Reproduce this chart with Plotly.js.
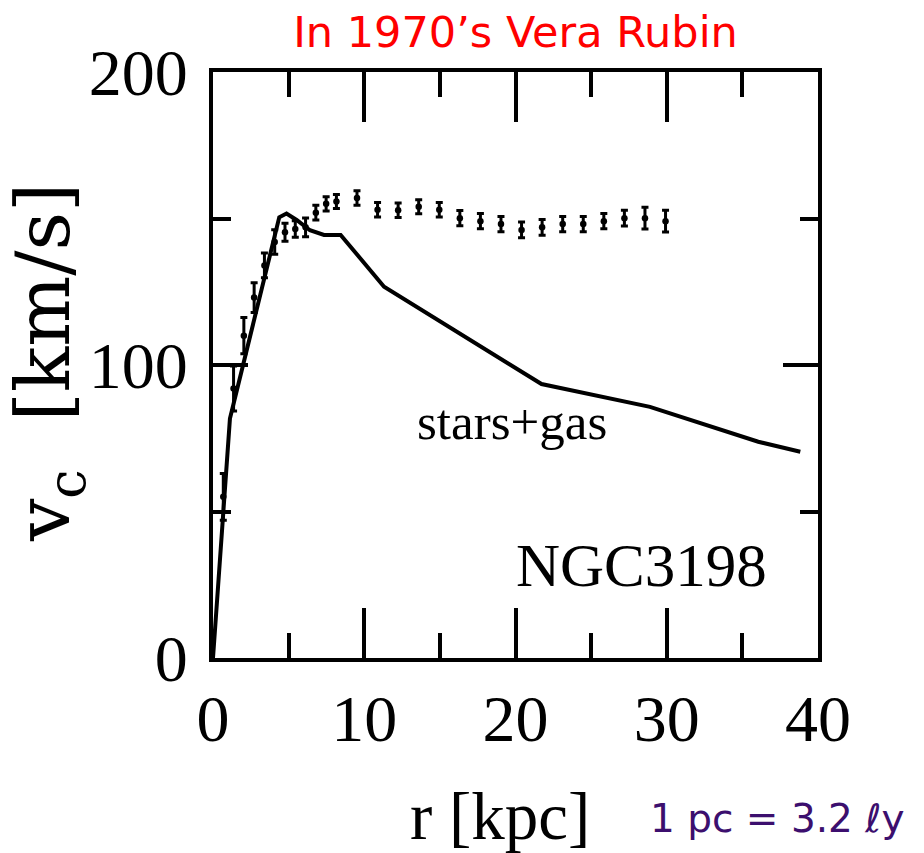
<!DOCTYPE html>
<html>
<head>
<meta charset="utf-8">
<script src="https://cdn.plot.ly/plotly-3.0.1.min.js"></script>
<style>html,body{margin:0;padding:0;background:#fff;}#chart{width:924px;height:853px;}</style>
</head>
<body>
<div id="chart"></div>
<script>
// Observed rotation curve of NGC3198 (points with error bars)
const obsR = [0.68, 1.36, 2.04, 2.72, 3.40, 4.08, 4.76, 5.44, 6.12, 6.80, 7.48, 8.16, 9.52, 10.88, 12.24, 13.60, 14.96, 16.32, 17.68, 19.04, 20.40, 21.76, 23.12, 24.48, 25.84, 27.20, 28.56, 29.92];
const obsV = [55, 92, 110, 123, 134, 142, 145.3, 146.4, 147.0, 152, 155, 155.8, 157, 153, 152.8, 154, 153, 150.1, 149.1, 148.1, 146.1, 147, 148.1, 148.1, 149.1, 150.1, 150.1, 149.1];
const obsErr = [8, 7.7, 6.2, 5.1, 4.2, 4.2, 3.1, 2.8, 3.2, 2.5, 2.4, 2.4, 2.5, 2.5, 2.5, 2.4, 2.5, 2.6, 2.6, 2.6, 2.7, 2.7, 2.6, 2.6, 2.6, 2.7, 3.7, 3.7];

// Stars + gas model curve
const modelR = [0, 1.12, 4.38, 4.86, 5.53, 6.41, 7.34, 8.44, 11.31, 21.72, 28.89, 36.05, 38.83];
const modelV = [0, 81.7, 150.4, 151.7, 149.5, 146.0, 144.4, 144.4, 126.7, 93.5, 85.7, 73.8, 70.4];

const xTickVals = [0, 10, 20, 30, 40];
const xTickText = ['0', '10', '20', '30', '40'];
const yTickVals = [0, 100, 200];
const yTickText = ['0', '100', '200'];

const serif = 'Liberation Serif, DejaVu Serif, serif';

const traces = [
  {
    x: modelR, y: modelV, type: 'scatter', mode: 'lines',
    line: {color: '#000', width: 4}, hoverinfo: 'skip', cliponaxis: false
  },
  {
    x: obsR, y: obsV, type: 'scatter', mode: 'markers',
    marker: {color: '#000', size: 6.5, symbol: 'circle'},
    error_y: {type: 'data', array: obsErr, visible: true, color: '#000', thickness: 3, width: 3.5}
  }
];

const layout = {
  width: 924, height: 853,
  margin: {l: 213, r: 106, t: 72, b: 195},
  paper_bgcolor: '#fff', plot_bgcolor: '#fff',
  showlegend: false,
  title: {
    text: "In 1970’s Vera Rubin",
    font: {family: 'DejaVu Sans, sans-serif', size: 43, color: '#ff0000'},
    x: 0.5, xref: 'paper', y: 0.962, yref: 'container', xanchor: 'center', yanchor: 'middle'
  },
  xaxis: {
    range: [0, 40], showgrid: false, zeroline: false,
    showline: true, linewidth: 4, linecolor: '#000', mirror: 'allticks',
    ticks: 'inside', ticklen: 50, tickwidth: 4, tickcolor: '#000',
    tickvals: xTickVals, ticktext: xTickText,
    tickfont: {family: serif, size: 66, color: '#000'},
    minor: {dtick: 5, ticks: 'inside', ticklen: 25, tickwidth: 4, tickcolor: '#000', showgrid: false}
  },
  yaxis: {
    range: [0, 200], showgrid: false, zeroline: false,
    showline: true, linewidth: 4, linecolor: '#000', mirror: 'allticks',
    ticks: 'inside', ticklen: 35, tickwidth: 4, tickcolor: '#000',
    tickvals: yTickVals, ticktext: yTickText, ticklabelstandoff: 8,
    tickfont: {family: serif, size: 66, color: '#000'},
    minor: {dtick: 50, ticks: 'inside', ticklen: 18, tickwidth: 4, tickcolor: '#000', showgrid: false}
  },
  annotations: [
    {text: 'r [kpc]', xref: 'paper', yref: 'paper', x: (500 - 213) / 605, y: -(816 - 658) / 586,
     xanchor: 'center', yanchor: 'middle', showarrow: false,
     font: {family: serif, size: 67, color: '#000'}},
    {text: '1 pc = 3.2 ℓy', xref: 'paper', yref: 'paper', x: (777 - 213) / 605, y: -(818 - 658) / 586,
     xanchor: 'center', yanchor: 'middle', showarrow: false,
     font: {family: 'DejaVu Sans, sans-serif', size: 39, color: '#3c0f6e'}},
    {text: 'v<sub>c</sub>  [km/s]', xref: 'paper', yref: 'paper', x: -(213 - 48) / 605, y: (658 - 363) / 586,
     xanchor: 'center', yanchor: 'middle', showarrow: false, textangle: -90,
     font: {family: 'DejaVu Serif, serif', size: 75, color: '#000'}},
    {text: 'stars+gas', xref: 'x', yref: 'y', x: 19.8, y: 80.5,
     xanchor: 'center', yanchor: 'middle', showarrow: false,
     font: {family: serif, size: 51, color: '#000'}},
    {text: 'NGC3198', xref: 'x', yref: 'y', x: 28.3, y: 31.7,
     xanchor: 'center', yanchor: 'middle', showarrow: false,
     font: {family: serif, size: 61, color: '#000'}}
  ]
};

Plotly.newPlot('chart', traces, layout, {staticPlot: true, displayModeBar: false});
</script>
</body>
</html>
